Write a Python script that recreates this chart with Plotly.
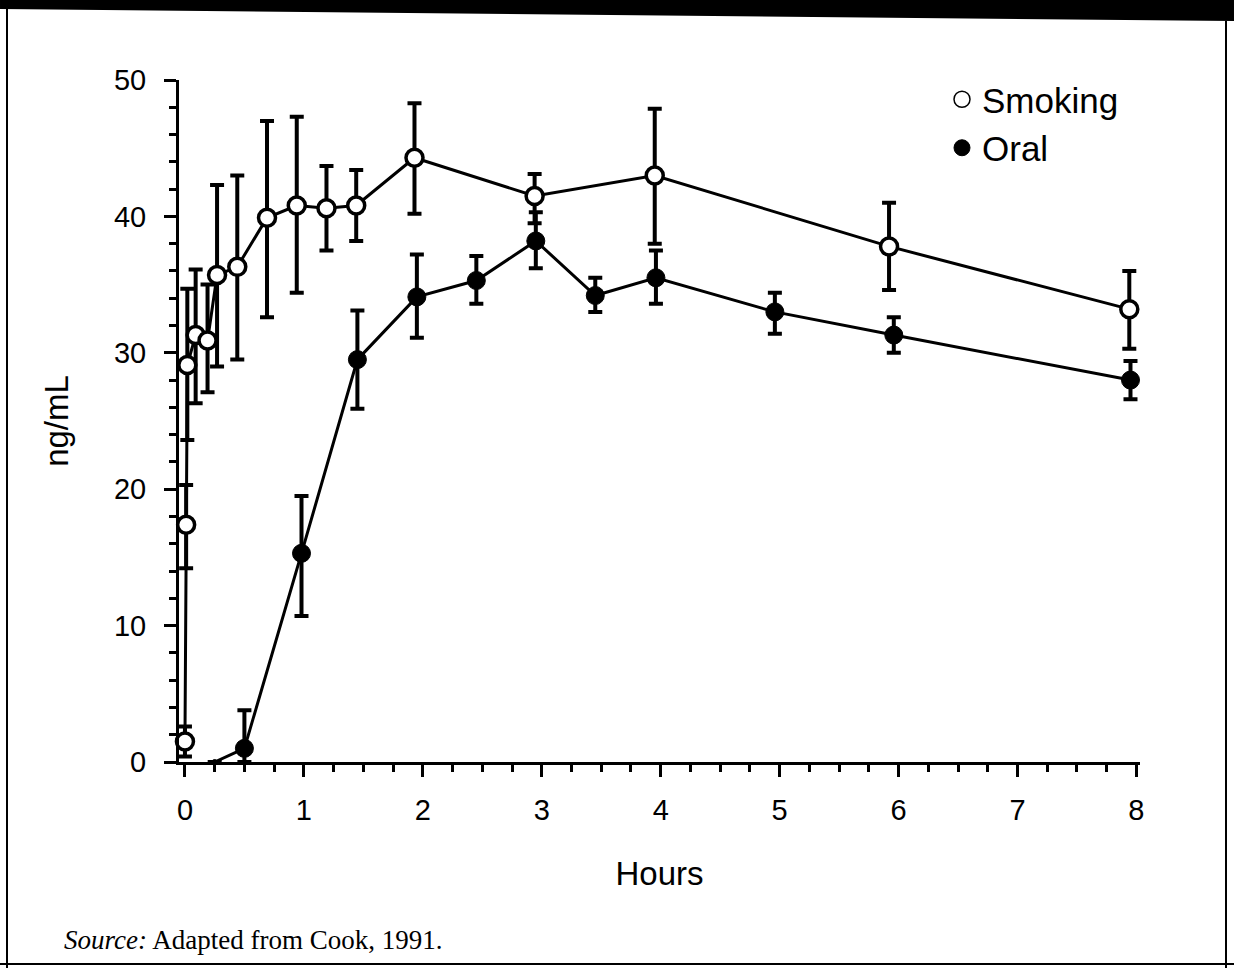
import plotly.graph_objects as go

# ---------------- data ----------------
smoking_t = [0.0, 0.01, 0.02, 0.09, 0.19, 0.27, 0.44, 0.69, 0.94, 1.19, 1.44, 1.93, 2.94, 3.95, 5.92, 7.94]
smoking_mean = [1.5, 17.4, 29.1, 31.3, 30.9, 35.7, 36.3, 39.9, 40.8, 40.6, 40.8, 44.3, 41.5, 43.0, 37.8, 33.2]
smoking_upper = [2.6, 20.3, 34.7, 36.1, 35.0, 42.3, 43.0, 47.0, 47.3, 43.7, 43.4, 48.3, 43.1, 47.9, 41.0, 36.0]
smoking_lower = [0.4, 14.2, 23.6, 26.3, 27.1, 29.0, 29.5, 32.6, 34.4, 37.5, 38.2, 40.2, 39.5, 38.0, 34.6, 30.3]

oral_t = [0.25, 0.50, 0.98, 1.45, 1.95, 2.45, 2.95, 3.45, 3.96, 4.96, 5.96, 7.95]
oral_mean = [0.0, 1.0, 15.3, 29.5, 34.1, 35.3, 38.2, 34.2, 35.5, 33.0, 31.3, 28.0]
oral_upper = [0.0, 3.8, 19.5, 33.1, 37.2, 37.1, 40.3, 35.5, 37.5, 34.4, 32.6, 29.4]
oral_lower = [0.0, 0.0, 10.7, 25.9, 31.1, 33.6, 36.2, 33.0, 33.6, 31.4, 30.0, 26.6]

x_ticks = [0, 1, 2, 3, 4, 5, 6, 7, 8]
y_ticks = [0, 10, 20, 30, 40, 50]

x_title = "Hours"
y_title = "ng/mL"
series_names = ["Smoking", "Oral"]
source_text = "<i>Source:</i> Adapted from Cook, 1991."

# ---------------- layout geometry ----------------
W, H = 1234, 968
ML, MR, MT, MB = 179, 94, 80, 206

def px_x(p):
    return (p - ML) / (W - ML - MR)

def px_y(p):
    return 1 - (p - MT) / (H - MT - MB)

def err(upper, mean, lower):
    plus = [u - m for u, m in zip(upper, mean)]
    minus = [m - l for m, l in zip(mean, lower)]
    return plus, minus

s_plus, s_minus = err(smoking_upper, smoking_mean, smoking_lower)
o_plus, o_minus = err(oral_upper, oral_mean, oral_lower)

fig = go.Figure()

fig.add_trace(go.Scatter(
    x=oral_t, y=oral_mean, mode="lines+markers", showlegend=False,
    line=dict(color="black", width=3),
    marker=dict(size=[5] + [18] * (len(oral_t) - 1), color="black", opacity=1,
                line=dict(color="black", width=1)),
    error_y=dict(type="data", array=o_plus, arrayminus=o_minus, symmetric=False,
                 color="black", thickness=4, width=7),
    cliponaxis=False,
))

fig.add_trace(go.Scatter(
    x=smoking_t, y=smoking_mean, mode="lines+markers", showlegend=False,
    line=dict(color="black", width=3),
    marker=dict(size=17, color="white", opacity=1, line=dict(color="black", width=3.5)),
    error_y=dict(type="data", array=s_plus, arrayminus=s_minus, symmetric=False,
                 color="black", thickness=4, width=7),
    cliponaxis=False,
))

# legend entries
fig.add_trace(go.Scatter(
    x=[None], y=[None], mode="markers", name=series_names[0],
    marker=dict(size=18, color="white", opacity=1, line=dict(color="black", width=1.5)),
))
fig.add_trace(go.Scatter(
    x=[None], y=[None], mode="markers", name=series_names[1],
    marker=dict(size=18, color="black", opacity=1, line=dict(color="black", width=1)),
))

tick_font = dict(family="Liberation Sans, Arial, sans-serif", size=29, color="black")
title_font = dict(family="Liberation Sans, Arial, sans-serif", size=33, color="black")

fig.update_layout(
    width=W, height=H,
    margin=dict(l=ML, r=MR, t=MT, b=MB),
    paper_bgcolor="white", plot_bgcolor="white",
    font=dict(family="Liberation Sans, Arial, sans-serif", color="black"),
    showlegend=True,
    legend=dict(
        x=px_x(942), y=px_y(70), xanchor="left", yanchor="top",
        font=dict(family="Liberation Sans, Arial, sans-serif", size=35, color="black"),
        bgcolor="rgba(0,0,0,0)", itemsizing="trace",
    ),
    xaxis=dict(
        range=[-0.05, 8.03], tickmode="array", tickvals=x_ticks,
        ticktext=[str(v) for v in x_ticks],
        showline=True, linecolor="black", linewidth=3,
        ticks="outside", ticklen=12, tickwidth=3, tickcolor="black",
        ticklabelstandoff=8,
        minor=dict(dtick=0.25, tick0=0, ticks="outside", ticklen=7, tickwidth=3, tickcolor="black"),
        showgrid=False, zeroline=False, tickfont=tick_font,
        title=dict(text=x_title, font=title_font, standoff=38),
    ),
    yaxis=dict(
        range=[0, 50], tickmode="array", tickvals=y_ticks,
        ticktext=[str(v) for v in y_ticks],
        showline=True, linecolor="black", linewidth=3,
        ticks="outside", ticklen=12, tickwidth=3, tickcolor="black",
        ticklabelstandoff=12,
        minor=dict(dtick=2, tick0=0, ticks="outside", ticklen=7, tickwidth=3, tickcolor="black"),
        showgrid=False, zeroline=False, tickfont=tick_font,
        title=dict(text=y_title, font=title_font, standoff=36),
    ),
)

# source note
fig.add_annotation(
    text=source_text, xref="paper", yref="paper",
    x=px_x(62), y=px_y(940), xanchor="left", yanchor="middle", showarrow=False,
    font=dict(family="Liberation Serif, DejaVu Serif, serif", size=27, color="black"),
)

# page frame: dark band at top, side borders, bottom rule
def ppath(points):
    return "M " + " L ".join(f"{px_x(a):.5f},{px_y(b):.5f}" for a, b in points) + " Z"

fig.add_shape(type="path", xref="paper", yref="paper",
              path=ppath([(0, 0), (W, 0), (W, 21), (0, 9)]),
              fillcolor="black", line=dict(width=0), layer="above")
fig.add_shape(type="line", xref="paper", yref="paper",
              x0=px_x(7), x1=px_x(7), y0=px_y(9), y1=px_y(H),
              line=dict(color="black", width=2))
fig.add_shape(type="line", xref="paper", yref="paper",
              x0=px_x(1226), x1=px_x(1226), y0=px_y(21), y1=px_y(H),
              line=dict(color="black", width=2))
fig.add_shape(type="line", xref="paper", yref="paper",
              x0=px_x(0), x1=px_x(W), y0=px_y(964), y1=px_y(964),
              line=dict(color="black", width=2))

fig.write_html("out.html", config={"displayModeBar": False},
               post_script="document.body.style.margin='0px';document.body.style.padding='0px';")
